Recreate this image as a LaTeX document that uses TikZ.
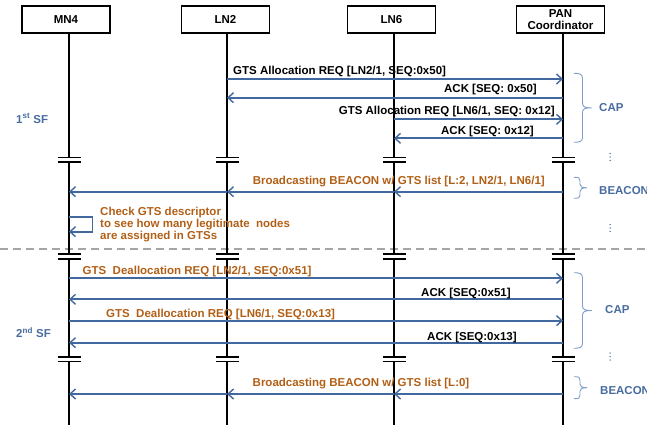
\documentclass[tikz,border=0pt]{standalone}
\usepackage{fontspec}
\setmainfont{Liberation Sans}
\usetikzlibrary{arrows.meta,calc}
\definecolor{arrowblue}{RGB}{65,105,160}
\definecolor{txtorange}{RGB}{178,95,22}
\definecolor{labblue}{RGB}{72,108,160}
\definecolor{braceblue}{RGB}{125,158,200}
\definecolor{dashgray}{RGB}{165,165,165}
\begin{document}
\begin{tikzpicture}[x=1pt,y=-1pt,
  font=\fontsize{11.5}{13.5}\selectfont\bfseries,
  entity/.style={draw=black, line width=1.4pt, fill=white, minimum width=88pt, minimum height=27pt, inner sep=0pt, align=center},
  life/.style={line width=1.8pt, black},
  brk/.style={line width=1.6pt, black},
  msg/.style={draw=arrowblue, line width=1.8pt, -{Straight Barb[length=5.5pt,width=10pt,line width=1.4pt]}},
  blk/.style={black, inner sep=0pt},
  org/.style={txtorange, inner sep=0pt},
  side/.style={labblue, inner sep=0pt, anchor=base west},
  bracestyle/.style={draw=braceblue, line width=0.9pt},
  sep/.style={dashgray, line width=1.8pt, dash pattern=on 8pt off 5pt}
]
\useasboundingbox (0,0) rectangle (647,425);

% entities
\node[entity] (MN4) at (66,19.5) {MN4};
\node[entity] (LN2) at (225.5,19.5) {LN2};
\node[entity] (LN6) at (391.5,19.5) {LN6};
\node[entity] (PAN) at (560.5,19.5) {PAN\\[-1.5pt]Coordinator};

% dashed separator
\draw[sep] (0,249) -- (647,249);

% lifelines with break marks
\foreach \n/\x in {MN4/69, LN2/227, LN6/394, PAN/563}{
  \coordinate (l\n) at (\x,33);
  \draw[life] (\x,33) -- (\x,157.5);
  \draw[brk] (\x-11.5,157.5) -- (\x+11.5,157.5);
  \draw[brk] (\x-11.5,162) -- (\x+11.5,162);
  \draw[life] (\x,162) -- (\x,254);
  \draw[brk] (\x-11.5,254) -- (\x+11.5,254);
  \draw[brk] (\x-11.5,259) -- (\x+11.5,259);
  \draw[life] (\x,259) -- (\x,357);
  \draw[brk] (\x-11.5,357) -- (\x+11.5,357);
  \draw[brk] (\x-11.5,361.5) -- (\x+11.5,361.5);
  \draw[life] (\x,361.5) -- (\x,425);
}

% first superframe
\draw[msg] (lLN2|-0,79) -- (lPAN|-0,79);
\node[blk, anchor=base west] (m1) at (233,75) {GTS Allocation REQ [LN2/1, SEQ:0x50]};
\draw[msg] (lPAN|-0,97.7) -- (lLN2|-0,97.7);
\node[blk, anchor=base east] (m2) at (537,93) {ACK [SEQ: 0x50]};
\draw[msg] (lLN6|-0,119.3) -- (lPAN|-0,119.3);
\node[blk, anchor=base east] (m3) at (555,114) {GTS Allocation REQ [LN6/1, SEQ: 0x12]};
\draw[msg] (lPAN|-0,138.3) -- (lLN6|-0,138.3);
\node[blk, anchor=base east] (m4) at (534,134) {ACK [SEQ: 0x12]};

% beacon 1
\draw[msg] (lPAN|-0,191.7) -- (lLN6|-0,191.7);
\draw[msg] (lLN6|-0,191.7) -- (lLN2|-0,191.7);
\draw[msg] (lLN2|-0,191.7) -- (lMN4|-0,191.7);
\node[org, anchor=base east] (b1) at (545,184) {Broadcasting BEACON w/ GTS list [L:2, LN2/1, LN6/1]};

% self check
\draw[msg, line width=1.7pt] (lMN4|-0,216.7) -- ++(23.5,0) -- ++(0,15) -- (lMN4|-0,231.7);
\node[org, anchor=base west] (c1) at (100,215) {Check GTS descriptor};
\node[org, anchor=base west] (c2) at (100,227) {to see how many legitimate\ \ nodes};
\node[org, anchor=base west] (c3) at (100,239) {are assigned in GTSs};

% second superframe
\draw[msg] (lMN4|-0,278.3) -- (lPAN|-0,278.3);
\node[org, anchor=base west] (d1) at (82.5,274) {GTS\ \ Deallocation REQ [LN2/1, SEQ:0x51]};
\draw[msg] (lPAN|-0,299.3) -- (lMN4|-0,299.3);
\node[blk, anchor=base west] (d2) at (421,296) {ACK [SEQ:0x51]};
\draw[msg] (lMN4|-0,320.7) -- (lPAN|-0,320.7);
\node[org, anchor=base west] (d3) at (106,317.5) {GTS\ \ Deallocation REQ [LN6/1, SEQ:0x13]};
\draw[msg] (lPAN|-0,342.7) -- (lMN4|-0,342.7);
\node[blk, anchor=base west] (d4) at (427,340) {ACK [SEQ:0x13]};

% beacon 2
\draw[msg] (lPAN|-0,394) -- (lLN6|-0,394);
\draw[msg] (lLN6|-0,394) -- (lLN2|-0,394);
\draw[msg] (lLN2|-0,394) -- (lMN4|-0,394);
\node[org, anchor=base west] (b2) at (252.5,386.5) {Broadcasting BEACON w/ GTS list [L:0]};

% side labels
\node[side] (sf1) at (16,123) {1\textsuperscript{st} SF};
\node[side] (sf2) at (16,337.5) {2\textsuperscript{nd} SF};

% braces: top y / bottom y / bar x / tip x / curl
\foreach \t/\b/\bx/\tx/\c in {73.3/142.3/582.5/591.5/5, 177.3/198.3/580/587/3.5, 272.7/348.3/582.5/592/5, 376.7/398.7/580/587/3.5}{
  \pgfmathsetmacro{\m}{(\t+\b)/2}
  \draw[bracestyle] (574,\t) .. controls (579,\t) and (\bx,\t+0.5) .. (\bx,\t+\c)
     -- (\bx,\m-\c) .. controls (\bx,\m-1) and (\bx+2,\m) .. (\tx,\m)
     .. controls (\bx+2,\m) and (\bx,\m+1) .. (\bx,\m+\c)
     -- (\bx,\b-\c) .. controls (\bx,\b-0.5) and (579,\b) .. (574,\b);
}
\node[side] (cap1) at (599,111.5) {CAP};
\node[side] (bea1) at (599,194) {BEACON};
\node[side] (cap2) at (605,313) {CAP};
\node[side] (bea2) at (600,394) {BEACON};

% vertical ellipses
\foreach \yc in {157, 228, 356.5}{
  \foreach \d in {-3.5,0,3.5}{
    \fill[labblue] (610,\yc+\d) circle (0.75);
  }
}
\end{tikzpicture}
\end{document}
